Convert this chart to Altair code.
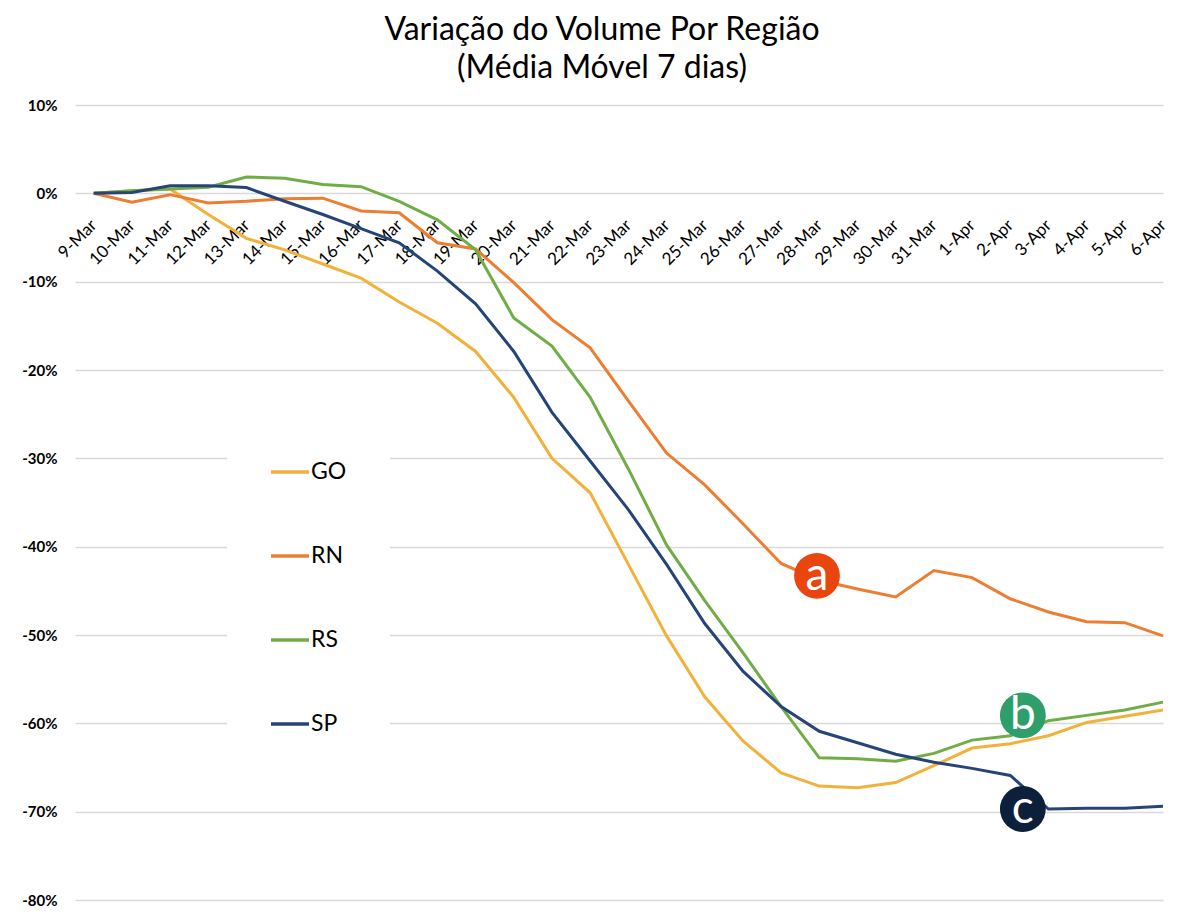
import json
import altair as alt
import pandas as pd

dates = ["9-Mar", "10-Mar", "11-Mar", "12-Mar", "13-Mar", "14-Mar", "15-Mar", "16-Mar",
         "17-Mar", "18-Mar", "19-Mar", "20-Mar", "21-Mar", "22-Mar", "23-Mar", "24-Mar",
         "25-Mar", "26-Mar", "27-Mar", "28-Mar", "29-Mar", "30-Mar", "31-Mar",
         "1-Apr", "2-Apr", "3-Apr", "4-Apr", "5-Apr", "6-Apr"]

regions = ["GO", "RN", "RS", "SP"]
colors = ["#F1B13B", "#ED7D31", "#70AD47", "#264478"]

go = [0, 0.3, 0.5, -2.4, -5.1, -6.4, -8.0, -9.6, -12.3, -14.7, -17.9, -23.1, -30.0, -33.9,
      -42.0, -50.1, -57.0, -62.0, -65.6, -67.1, -67.3, -66.7, -64.8, -62.8, -62.3, -61.4,
      -59.9, -59.2, -58.5]
rn = [0, -1.0, -0.15, -1.1, -0.9, -0.6, -0.55, -2.0, -2.2, -5.6, -6.3, -10.1, -14.3, -17.5,
      -23.5, -29.4, -33.0, -37.4, -41.9, -43.8, -44.8, -45.7, -42.7, -43.5, -45.9, -47.4,
      -48.5, -48.6, -50.1]
rs = [0, 0.3, 0.5, 0.7, 1.85, 1.7, 1.0, 0.75, -0.9, -3.0, -6.4, -14.1, -17.3, -23.1,
      -31.2, -39.8, -46.1, -52.0, -58.1, -63.9, -64.0, -64.3, -63.4, -61.9, -61.4, -59.7,
      -59.1, -58.5, -57.6]
sp = [0, 0.1, 0.85, 0.85, 0.65, -0.9, -2.4, -4.0, -5.6, -8.8, -12.5, -17.9, -24.8, -30.3,
      -35.8, -42.0, -48.7, -54.1, -58.1, -60.9, -62.2, -63.5, -64.4, -65.1, -65.9, -69.7,
      -69.6, -69.6, -69.4]

# annotation badges (data coordinates: day index, percent)
ann_letters = ["a", "b", "c"]
ann_x = [18.94, 24.33, 24.33]
ann_y = [-43.3, -59.1, -69.7]
ann_fill = ["#E9450F", "#2E9E6B", "#0C1F3B"]

series = {"GO": go, "RN": rn, "RS": rs, "SP": sp}
rows = []
for reg, vals in series.items():
    for i, v in enumerate(vals):
        rows.append({"idx": i, "date": dates[i], "Região": reg, "value": v})
df = pd.DataFrame(rows)

ann = pd.DataFrame({"idx": ann_x, "value": ann_y, "letter": ann_letters, "fill": ann_fill})

W = 1088
H = 795
Y_MIN, Y_MAX = -80, 10
zero_offset = -H * (0 - Y_MIN) / (Y_MAX - Y_MIN)

label_expr = json.dumps(dates) + "[datum.value]"

x_enc = alt.X(
    "idx:Q",
    scale=alt.Scale(domain=[-0.49, 28], nice=False, zero=False),
    axis=alt.Axis(
        values=list(range(len(dates))),
        labelExpr=label_expr,
        labelAngle=-45,
        labelAlign="right",
        labelBaseline="middle",
        orient="bottom",
        offset=zero_offset,
        domain=False,
        ticks=False,
        grid=False,
        labelFontSize=17,
        labelFont="Lato",
        labelColor="black",
        labelPadding=29,
        labelOverlap=False,
        labelFlush=False,
        labelBound=False,
        title=None,
    ),
)

y_enc = alt.Y(
    "value:Q",
    scale=alt.Scale(domain=[Y_MIN, Y_MAX], nice=False, zero=False),
    axis=alt.Axis(
        values=list(range(Y_MIN, Y_MAX + 1, 10)),
        labelExpr="datum.value + '%'",
        domain=False,
        ticks=False,
        grid=True,
        gridColor="#D9D9D9",
        gridWidth=1.3,
        labelFontSize=15,
        labelFont="Lato",
        labelFontWeight="bold",
        labelColor="black",
        labelPadding=18,
        title=None,
    ),
)

lines = alt.Chart(df).mark_line(strokeWidth=3).encode(
    x=x_enc,
    y=y_enc,
    color=alt.Color(
        "Região:N",
        scale=alt.Scale(domain=regions, range=colors),
        legend=alt.Legend(
            title=None,
            orient="none",
            legendX=152,
            legendY=304,
            symbolType="stroke",
            symbolSize=1444,
            symbolStrokeWidth=3.5,
            labelFontSize=23,
            labelFont="Lato",
            labelColor="black",
            labelOffset=0,
            rowPadding=51,
            padding=42,
            fillColor="white",
            strokeColor="white",
        ),
    ),
)

badges = alt.Chart(ann).mark_circle(size=2100, opacity=1).encode(
    x=x_enc,
    y=y_enc,
    fill=alt.Fill("fill:N", scale=None),
)

letters = alt.Chart(ann).mark_text(
    font="Lato", fontSize=46, color="white", baseline="middle", align="center"
).encode(
    x=x_enc,
    y=y_enc,
    text="letter:N",
)

chart = alt.layer(lines, badges, letters).properties(
    width=W,
    height=H,
    background="white",
    view=alt.ViewBackground(stroke="transparent", strokeWidth=0),
    autosize=alt.AutoSizeParams(type="none"),
    padding={"left": 67, "top": 97, "right": 6, "bottom": 8},
    title=alt.TitleParams(
        text=["Variação do Volume Por Região", "(Média Móvel 7 dias)"],
        font="Lato",
        fontSize=32,
        fontWeight="normal",
        color="black",
        anchor="middle",
        lineHeight=38,
        offset=13,
        dx=-17,
    ),
).configure_view(stroke="transparent", strokeWidth=0)

chart.save("out.html", embed_options={"renderer": "svg", "actions": False})
